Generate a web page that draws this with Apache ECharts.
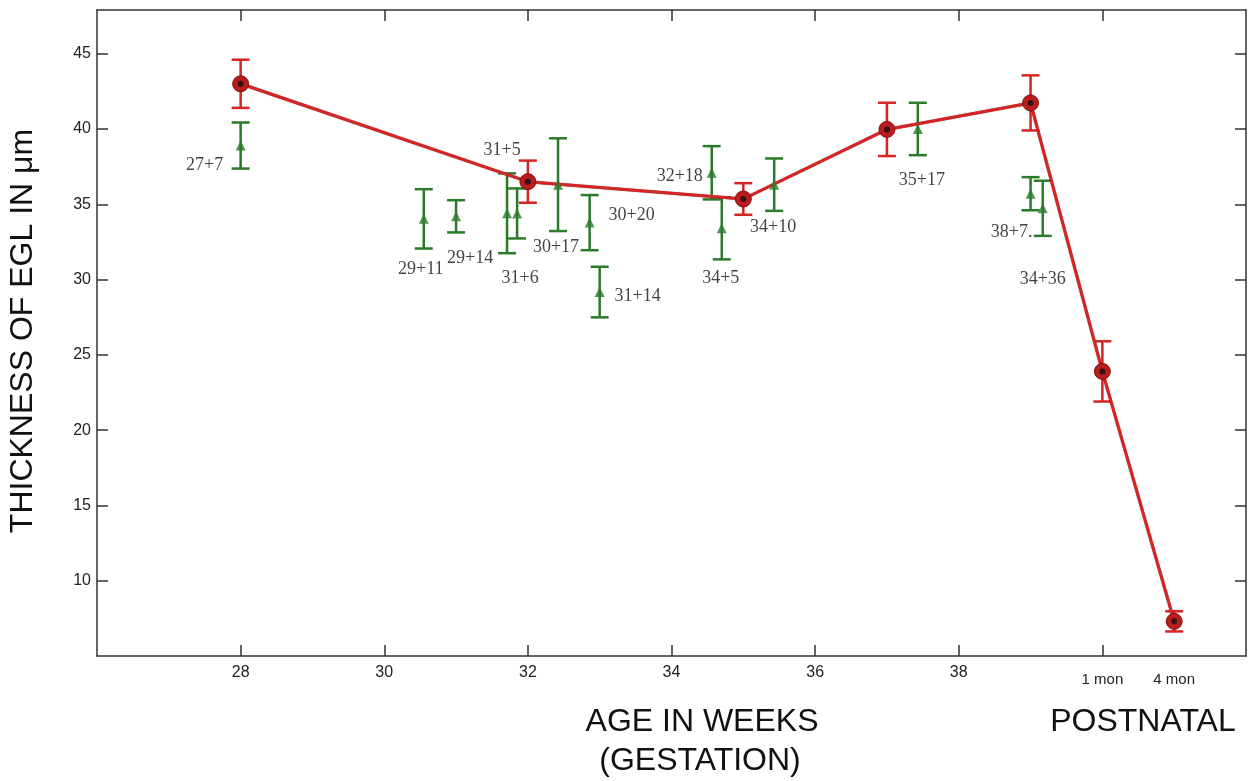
<!DOCTYPE html>
<html>
<head>
<meta charset="utf-8">
<script src="https://cdn.jsdelivr.net/npm/echarts@6/dist/echarts.min.js"></script>
<style>html,body{margin:0;padding:0;background:#fff;}#c{width:1256px;height:781px;}</style>
</head>
<body>
<div id="c"></div>
<script>
// ---- data ----
const meanWeeks = [28, 32, 35, 37, 39, 40, 41];
const meanValues = [43.0, 36.5, 35.35, 39.97, 41.73, 23.9, 7.3];
const meanErrors = [1.6, 1.4, 1.05, 1.77, 1.83, 2.0, 0.67];

const caseLabels = ['27+7', '29+11', '29+14', '31+5', '31+6', '30+17', '30+20', '31+14', '32+18', '34+5', '34+10', '35+17', '38+7.', '34+36'];
const caseWeeks  = [28, 30.55, 31.0, 31.71, 31.85, 32.42, 32.86, 33.0, 34.56, 34.7, 35.43, 37.43, 39.0, 39.17];
const caseValues = [38.9, 34.03, 34.2, 34.4, 34.39, 36.3, 33.78, 29.17, 37.09, 33.4, 36.3, 40.0, 35.7, 34.73];
const caseErrors = [1.53, 1.97, 1.07, 2.65, 1.66, 3.08, 1.83, 1.68, 1.77, 2.06, 1.74, 1.74, 1.1, 1.83];

const xTickValues = [28, 30, 32, 34, 36, 38, 40];
const xLabelValues = [28, 30, 32, 34, 36, 38, 40, 41];
const xLabelNames = {40: '1 mon', 41: '4 mon'};
const yTickValues = [10, 15, 20, 25, 30, 35, 40, 45];

// ---- styles (label offsets in px, not data) ----
const caseLabelOffsets = [[-36, 20], [-3, 50], [14, 42], [-5, -63], [3, 65], [-2, 63], [42, -7], [38, 4], [-32, 3], [-1, 50], [-1, 43], [4, 51], [-19, 39], [0, 71]];

const RED = '#d42424';
const GREEN = '#2a7a2a';
const AXIS = '#333';

function errRender(color, capHalf, lw) {
  return function (params, api) {
    const x = api.value(0), lo = api.value(1), hi = api.value(2);
    const pLo = api.coord([x, lo]);
    const pHi = api.coord([x, hi]);
    const st = {stroke: color, lineWidth: lw};
    return {
      type: 'group',
      children: [
        {type: 'line', shape: {x1: pLo[0], y1: pLo[1], x2: pHi[0], y2: pHi[1]}, style: st},
        {type: 'line', shape: {x1: pHi[0] - capHalf, y1: pHi[1], x2: pHi[0] + capHalf, y2: pHi[1]}, style: st},
        {type: 'line', shape: {x1: pLo[0] - capHalf, y1: pLo[1], x2: pLo[0] + capHalf, y2: pLo[1]}, style: st}
      ]
    };
  };
}

const meanErrData = meanWeeks.map((w, i) => [w, meanValues[i] - meanErrors[i], meanValues[i] + meanErrors[i]]);
const caseErrData = caseWeeks.map((w, i) => [w, caseValues[i] - caseErrors[i], caseValues[i] + caseErrors[i]]);
const meanData = meanWeeks.map((w, i) => [w, meanValues[i]]);
const caseData = caseWeeks.map((w, i) => ({
  value: [w, caseValues[i]],
  name: caseLabels[i],
  label: {offset: caseLabelOffsets[i]}
}));

const axisLineStyle = {color: AXIS, width: 1.5};
const tickStyle = {color: AXIS, width: 1.5};

const chart = echarts.init(document.getElementById('c'), null, {renderer: 'canvas'});
chart.setOption({
  backgroundColor: '#fff',
  animation: false,
  grid: {left: 97, right: 10, top: 10, bottom: 125},
  xAxis: [
    {
      type: 'value', min: 26, max: 42, interval: 2, position: 'bottom',
      axisLine: {show: true, onZero: false, lineStyle: axisLineStyle},
      axisTick: {show: true, inside: true, length: 11, lineStyle: tickStyle, customValues: xTickValues},
      axisLabel: {
        show: true, margin: 9, color: '#222', fontSize: 16, fontFamily: 'Liberation Sans',
        customValues: xLabelValues,
        formatter: function (v) { return xLabelNames[v] ? '{m|' + xLabelNames[v] + '}' : String(v); },
        rich: {m: {fontSize: 15, color: '#222', fontFamily: 'Liberation Sans', padding: [7, 0, 0, 0]}}
      },
      splitLine: {show: false}
    },
    {
      type: 'value', min: 26, max: 42, interval: 2, position: 'top',
      axisLine: {show: true, onZero: false, lineStyle: axisLineStyle},
      axisTick: {show: true, inside: true, length: 11, lineStyle: tickStyle, customValues: xTickValues},
      axisLabel: {show: false},
      splitLine: {show: false}
    }
  ],
  yAxis: [
    {
      type: 'value', min: 5, max: 47.9, interval: 5, position: 'left',
      axisLine: {show: true, onZero: false, lineStyle: axisLineStyle},
      axisTick: {show: true, inside: true, length: 11, lineStyle: tickStyle, customValues: yTickValues},
      axisLabel: {show: true, margin: 6, color: '#222', fontSize: 16, fontFamily: 'Liberation Sans', customValues: yTickValues},
      splitLine: {show: false}
    },
    {
      type: 'value', min: 5, max: 47.9, interval: 5, position: 'right',
      axisLine: {show: true, onZero: false, lineStyle: axisLineStyle},
      axisTick: {show: true, inside: true, length: 11, lineStyle: tickStyle, customValues: yTickValues},
      axisLabel: {show: false},
      splitLine: {show: false}
    }
  ],
  series: [
    {
      type: 'custom', name: 'caseErr', renderItem: errRender(GREEN, 9, 2.5),
      data: caseErrData, z: 2, encode: {x: 0, y: [1, 2]}
    },
    {
      type: 'custom', name: 'meanErr', renderItem: errRender(RED, 9, 2.5),
      data: meanErrData, z: 3, encode: {x: 0, y: [1, 2]}
    },
    {
      type: 'line', name: 'mean', data: meanData, z: 4,
      lineStyle: {color: RED, width: 3, shadowColor: 'rgba(60,0,0,0.6)', shadowBlur: 1},
      symbol: 'circle', symbolSize: 16,
      itemStyle: {color: '#b81c1c', borderColor: '#8a1010', borderWidth: 1}
    },
    {
      type: 'scatter', name: 'meanDot', data: meanData, z: 5,
      symbol: 'circle', symbolSize: 6, itemStyle: {color: '#111'}
    },
    {
      type: 'scatter', name: 'cases', data: caseData, z: 6,
      symbol: 'triangle', symbolSize: [10, 10], itemStyle: {color: GREEN},
      label: {
        show: true, position: 'inside', formatter: '{b}',
        color: '#111', fontSize: 18, fontFamily: 'Liberation Serif',
        align: 'center', verticalAlign: 'middle', textBorderWidth: 0
      }
    }
  ],
  graphic: [
    {type: 'text', x: 23, y: 331, rotation: Math.PI / 2,
     style: {text: 'THICKNESS OF EGL IN μm', font: '32px "Liberation Sans"', fill: '#111', textAlign: 'center', textVerticalAlign: 'middle'}},
    {type: 'text', x: 702, y: 722,
     style: {text: 'AGE IN WEEKS', font: '32px "Liberation Sans"', fill: '#111', textAlign: 'center', textVerticalAlign: 'middle'}},
    {type: 'text', x: 700, y: 761,
     style: {text: '(GESTATION)', font: '32px "Liberation Sans"', fill: '#111', textAlign: 'center', textVerticalAlign: 'middle'}},
    {type: 'text', x: 1143, y: 722,
     style: {text: 'POSTNATAL', font: '32px "Liberation Sans"', fill: '#111', textAlign: 'center', textVerticalAlign: 'middle'}}
  ]
});
</script>
</body>
</html>
